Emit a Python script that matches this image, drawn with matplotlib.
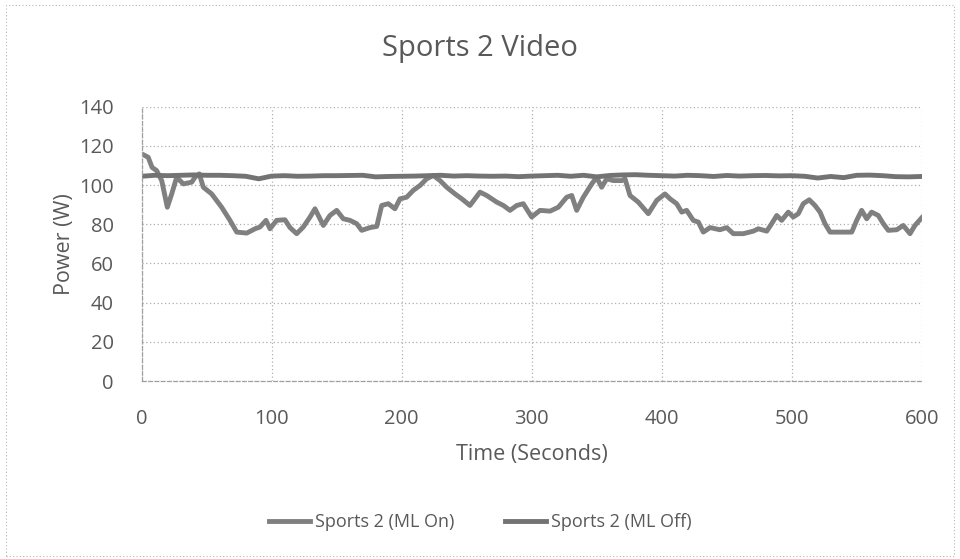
import matplotlib
matplotlib.use('Agg')
import matplotlib.pyplot as plt
from matplotlib.patches import Rectangle

on_time = [0, 1, 5, 8, 11.5, 15.4, 19.7, 23.1, 26.9, 32, 38.5, 41, 44.3, 47.4, 53.8,
           61.5, 67.9, 73.1, 80.8, 87.2, 91, 95.6, 98.7, 103.8, 110.2, 114.1, 119.2,
           124.3, 129.5, 133.3, 139.7, 144.8, 150, 155.1, 160.2, 165.4, 169.2, 175.6,
           180.8, 184.6, 189.7, 194.8, 198.7, 203.8, 208.9, 214.1, 219.2, 224.3, 229.5,
           234.6, 241, 246.2, 252.5, 260.2, 265.4, 273.1, 278.2, 283.3, 288.5, 293.5,
           300, 306.4, 314.1, 320.5, 326.9, 330.8, 334.6, 339.7, 346.2, 350, 353.8,
           357.7, 362.8, 369.2, 371.8, 375.6, 382, 389.7, 396.2, 402.5, 406.4, 411.5,
           415.4, 419.2, 424.3, 428.2, 432, 437.2, 444.8, 450, 455.1, 462.8, 470.5,
           474.3, 480.8, 484.6, 488.5, 492.3, 497.4, 501.2, 505.1, 508.9, 513.5, 517.9,
           521.8, 525.6, 529.5, 539.7, 546.2, 550, 553.8, 557.7, 561.5, 566.6, 570.5,
           574.3, 580.8, 585.8, 591, 594.8, 600]
on_power = [115.5, 115.6, 114.2, 109, 107.4, 102.3, 88.7, 95.5, 104, 100.6, 101.5, 104,
            105.7, 98.9, 95.5, 88.7, 82, 76, 75.5, 77.7, 78.6, 82, 77.7, 82, 82.3, 78.3,
            75.2, 78.6, 83.7, 87.9, 79.4, 84.5, 87.1, 82.8, 82, 80.3, 76.9, 78.3, 78.9,
            89.6, 90.5, 87.9, 93, 93.8, 97.3, 99.8, 103.2, 104.9, 102.3, 98.9, 95.5, 93,
            89.6, 96.4, 94.7, 91.3, 89.6, 87.1, 89.6, 90.5, 83.7, 87.1, 86.7, 88.7, 93.8,
            94.7, 87.1, 93.8, 100.6, 104, 98.9, 103.2, 102.3, 102.3, 103.2, 94.7, 91.3,
            85.4, 92.2, 95.5, 93, 90.5, 86.2, 87.1, 82, 81.1, 76, 78.3, 77.2, 78.3, 75.2,
            75.2, 76.5, 77.7, 76.5, 80.3, 84.5, 82, 86.2, 83.7, 85.4, 90.5, 92.5, 89.6,
            86.2, 80.3, 76, 76, 76, 82, 87.1, 82.8, 86.2, 84.5, 80.3, 76.9, 77.2, 79.4,
            75.2, 79.4, 83.3]

# ML Off trace, every 10 s
off_time = list(range(0, 601, 10))
off_power = [104.5, 105, 104.8, 105, 105.2, 105, 105, 104.8, 104.5, 103.2, 104.6,
             104.8, 104.5, 104.6, 104.8, 104.8, 104.9, 105, 104.2, 104.4, 104.5, 104.6,
             104.8, 105, 104.6, 104.8, 104.6, 104.5, 104.6, 104.3, 104.6, 104.8, 105,
             104.5, 105, 104.2, 104.9, 105.2, 105.3, 105, 104.8, 104.6, 105, 104.8,
             104.4, 104.9, 104.6, 104.8, 104.9, 104.7, 104.8, 104.5, 103.6, 104.4,
             103.8, 105, 105.1, 104.8, 104.3, 104.2, 104.4]

x_ticks = [0, 100, 200, 300, 400, 500, 600]
y_ticks = [0, 20, 40, 60, 80, 100, 120, 140]

plt.rcParams['font.family'] = ['Open Sans', 'DejaVu Sans']
txt = '#595959'

fig = plt.figure(figsize=(9.6, 5.59), dpi=100)
ax = fig.add_axes([0.1476, 0.3184, 0.8125, 0.4907])

ax.plot(on_time, on_power, color='#808080', lw=3.5, label='Sports 2 (ML On)')
ax.plot(off_time, off_power, color='#737373', lw=3.5, label='Sports 2 (ML Off)')

ax.set_xlim(0, 600)
ax.set_ylim(0, 140)
ax.set_xticks(x_ticks)
ax.set_yticks(y_ticks)
ax.tick_params(length=0, labelsize=14.5, colors=txt)
ax.tick_params(axis='y', pad=20)
ax.tick_params(axis='x', pad=20)
ax.grid(True, color='#b0b0b0', linestyle=(0, (1, 2)), lw=0.9)
for s in ['top', 'right']:
    ax.spines[s].set_visible(False)
for s in ['left', 'bottom']:
    ax.spines[s].set_color('#a0a0a0')
    ax.spines[s].set_linestyle((0, (3, 2)))
    ax.spines[s].set_linewidth(0.9)

ax.set_xlabel('Time (Seconds)', fontsize=15.5, color=txt, labelpad=11)
ax.set_ylabel('Power (W)', fontsize=15.5, color=txt, labelpad=3)
fig.text(0.5, 0.914, 'Sports 2 Video', ha='center', va='center', fontsize=21, color=txt)

ax.legend(loc='center', bbox_to_anchor=(0.5, 0.066), bbox_transform=fig.transFigure,
          ncol=2, frameon=False, fontsize=13, handlelength=2.3, columnspacing=2.8,
          labelcolor=txt, handletextpad=0.25)

fig.patches.append(Rectangle((0.006, 0.006), 0.988, 0.985, transform=fig.transFigure,
                             fill=False, ec='#b8b8b8', lw=0.8, linestyle=(0, (1, 2))))

fig.savefig('out.png', dpi=100)
